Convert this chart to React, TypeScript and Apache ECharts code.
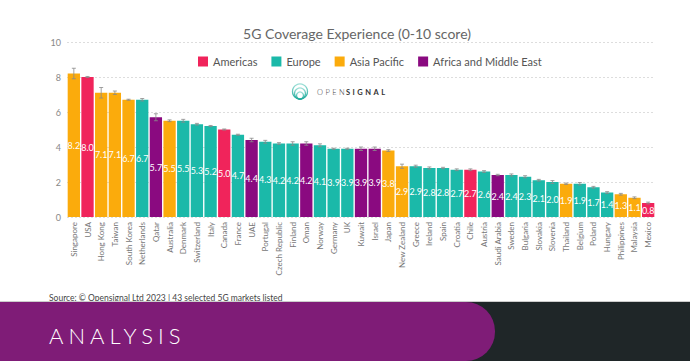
import React, { useEffect, useRef } from "react";
import * as echarts from "echarts";

const categories = ["Singapore","USA","Hong Kong","Taiwan","South Korea","Netherlands","Qatar","Australia","Denmark","Switzerland","Italy","Canada","France","UAE","Portugal","Czech Republic","Finland","Oman","Norway","Germany","UK","Kuwait","Israel","Japan","New Zealand","Greece","Ireland","Spain","Croatia","Chile","Austria","Saudi Arabia","Sweden","Bulgaria","Slovakia","Slovenia","Thailand","Belgium","Poland","Hungary","Philippines","Malaysia","Mexico"];
const scores = [8.2,8.0,7.1,7.1,6.7,6.7,5.7,5.5,5.5,5.3,5.2,5.0,4.7,4.4,4.3,4.2,4.2,4.2,4.1,3.9,3.9,3.9,3.9,3.8,2.9,2.9,2.8,2.8,2.7,2.7,2.6,2.4,2.4,2.3,2.1,2.0,1.9,1.9,1.7,1.4,1.3,1.1,0.8];
const regionOf = ["Asia Pacific","Americas","Asia Pacific","Asia Pacific","Asia Pacific","Europe","Africa and Middle East","Asia Pacific","Europe","Europe","Europe","Americas","Europe","Africa and Middle East","Europe","Europe","Europe","Africa and Middle East","Europe","Europe","Europe","Africa and Middle East","Africa and Middle East","Asia Pacific","Asia Pacific","Europe","Europe","Europe","Europe","Americas","Europe","Africa and Middle East","Europe","Europe","Europe","Europe","Asia Pacific","Europe","Europe","Europe","Asia Pacific","Asia Pacific","Americas"];
const errors = [0.3,0.03,0.3,0.1,0.03,0.07,0.2,0.05,0.08,0.05,0.03,0.03,0.03,0.1,0.08,0.05,0.1,0.1,0.08,0.03,0.03,0.1,0.1,0.05,0.12,0.06,0.06,0.04,0.05,0.05,0.05,0.04,0.06,0.06,0.05,0.08,0.04,0.07,0.05,0.05,0.05,0.05,0.05];
const regions = ["Americas","Europe","Asia Pacific","Africa and Middle East"];
const regionColors = ["#f0245b","#1bb9a9","#fbab0c","#8a0a80"];
const yTicks = [0, 2, 4, 6, 8, 10];

export default function App() {
  const ref = useRef<HTMLDivElement>(null);
  useEffect(() => {
    const chart = echarts.init(ref.current!, null, { renderer: "svg" });
    const font = "Lato";
    const barSeries = regions.map((name, ri) => ({
      name,
      type: "bar",
      stack: "all",
      barCategoryGap: "10%",
      itemStyle: { color: regionColors[ri] },
      label: {
        show: true,
        position: "inside",
        color: "#ffffff",
        fontSize: 9,
        fontFamily: font,
        formatter: (p: any) => Number(p.value).toFixed(1),
      },
      data: scores.map((v, i) => (regionOf[i] === name ? v : "-")),
    }));
    const errSeries = {
      type: "custom",
      name: "err",
      z: 5,
      encode: { x: 0, y: 1 },
      data: scores.map((v, i) => [i, v, errors[i]]),
      renderItem: (params: any, api: any) => {
        const i = api.value(0);
        const v = api.value(1);
        const e = api.value(2);
        const lo = api.coord([i, v - e]);
        const hi = api.coord([i, v + e]);
        const w = 2;
        const st = { stroke: "#8a8a8a", lineWidth: 0.8 };
        return {
          type: "group",
          children: [
            { type: "line", shape: { x1: lo[0], y1: lo[1], x2: hi[0], y2: hi[1] }, style: st },
            { type: "line", shape: { x1: lo[0] - w, y1: lo[1], x2: lo[0] + w, y2: lo[1] }, style: st },
            { type: "line", shape: { x1: hi[0] - w, y1: hi[1], x2: hi[0] + w, y2: hi[1] }, style: st },
          ],
        };
      },
    };
    const teal = new echarts.graphic.LinearGradient(0, 0, 0, 1, [
      { offset: 0, color: "#9fe0d8" },
      { offset: 1, color: "#1aa99a" },
    ]);
    chart.setOption({
      animation: false,
      backgroundColor: "#ffffff",
      title: {
        text: "5G Coverage Experience (0-10 score)",
        left: 352,
        textAlign: "center",
        top: 21,
        textStyle: { fontSize: 14, fontWeight: "normal", color: "#666666", fontFamily: font },
      },
      legend: {
        data: regions,
        top: 51,
        left: 193,
        itemWidth: 10,
        itemHeight: 10,
        itemGap: 14,
        icon: "rect",
        textStyle: { fontSize: 11, color: "#555555", fontFamily: font },
      },
      grid: { left: 67, right: 35, top: 42, bottom: 144 },
      xAxis: {
        type: "category",
        data: categories,
        axisLine: { show: false },
        axisTick: { show: false },
        axisLabel: { rotate: 90, fontSize: 8, color: "#777777", fontFamily: font, margin: 5, interval: 0 },
      },
      yAxis: {
        type: "value",
        min: 0,
        max: 10,
        interval: 2,
        axisLabel: {
          fontSize: 9,
          color: "#888888",
          fontFamily: font,
          margin: 6,
          formatter: (v: number) => (yTicks.includes(v) ? String(v) : ""),
        },
        splitLine: { lineStyle: { color: "#dddddd", type: [2, 2], width: 1 } },
      },
      series: [...barSeries, errSeries],
      graphic: [
        { type: "circle", shape: { cx: 300, cy: 91.5, r: 7.5 }, style: { fill: "none", stroke: teal, lineWidth: 1.3 } },
        { type: "circle", shape: { cx: 300, cy: 93.5, r: 5.5 }, style: { fill: "none", stroke: teal, lineWidth: 1.3 } },
        { type: "circle", shape: { cx: 300, cy: 95.5, r: 3.5 }, style: { fill: "none", stroke: teal, lineWidth: 1.3 } },
        { type: "text", x: 317, y: 88, style: { text: "OPEN", fontSize: 7.5, fontFamily: font, fill: "#444444", fontWeight: 300 } },
        { type: "text", x: 346, y: 88, style: { text: "SIGNAL", fontSize: 7.5, fontFamily: font, fill: "#333333", fontWeight: "bold" } },
        { type: "text", x: 49, y: 293, style: { text: "Source: © Opensignal Ltd 2023 | 43 selected 5G markets listed", fontSize: 8.5, fontFamily: font, fill: "#444444" } },
        { type: "line", shape: { x1: 0, y1: 301.5, x2: 690, y2: 301.5 }, style: { stroke: "#cccccc", lineWidth: 1 } },
        { type: "rect", shape: { x: 440, y: 302, width: 250, height: 59 }, style: { fill: "#1f2628" } },
        { type: "rect", shape: { x: 0, y: 302, width: 495, height: 59, r: [0, 29, 29, 0] }, style: { fill: "#7f1c77" } },
        { type: "text", x: 49, y: 324, style: { text: "ANALYSIS", fontSize: 22, fontFamily: font, fill: "#ffffff", fontWeight: 300 } },
      ],
    });
    const texts = ref.current!.querySelectorAll("text");
    texts.forEach((t) => {
      const c = t.textContent;
      if (c === "ANALYSIS") t.setAttribute("letter-spacing", "5");
      if (c === "OPEN" || c === "SIGNAL") t.setAttribute("letter-spacing", "2.5");
    });
    return () => chart.dispose();
  }, []);
  return <div ref={ref} style={{ position: "fixed", left: 0, top: 0, width: 690, height: 361 }} />;
}
